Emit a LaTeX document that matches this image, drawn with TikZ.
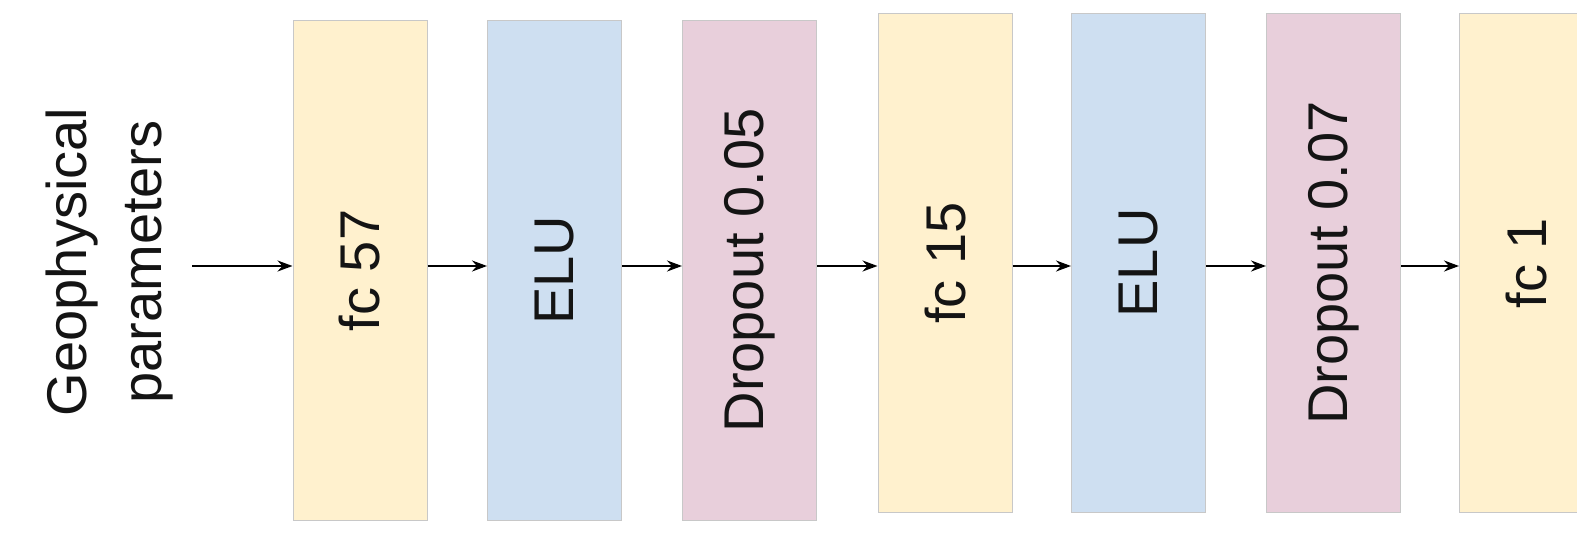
\documentclass[tikz,border=0pt]{standalone}
\usepackage{fontspec}
\setmainfont{Liberation Sans}
\usetikzlibrary{arrows.meta}
\definecolor{fcyel}{RGB}{255,241,206}
\definecolor{elublue}{RGB}{206,223,241}
\definecolor{droppink}{RGB}{232,207,219}
\definecolor{edgegray}{RGB}{200,200,200}
\definecolor{txt}{RGB}{20,20,20}
\begin{document}
\begin{tikzpicture}[x=0.5pt,y=-0.5pt,
  layer/.style={draw=edgegray, line width=0.5pt, minimum width=67pt,
    minimum height=249.5pt, inner sep=0pt, text=txt,
    font=\fontsize{28}{34}\selectfont},
  fcbox/.style={layer, fill=fcyel},
  elubox/.style={layer, fill=elublue},
  dropbox/.style={layer, fill=droppink},
  arr/.style={-{Stealth[length=7.5pt,width=5.5pt]}, line width=1pt, black}]
\useasboundingbox (0,0) rectangle (1577,535);
\clip (0,0) rectangle (1577,535);
\fill[white] (0,0) rectangle (1577,535);

\node[rotate=90, align=center, text=txt, inner sep=0pt,
  font=\fontsize{28}{37.5}\selectfont] (geo) at (110,262) {Geophysical\\parameters};

\node[fcbox]   (fcA)   at (360,270.5)  {\rotatebox{90}{fc 57}};
\node[elubox]  (eluA)  at (554.5,270.5) {\rotatebox{90}{ELU}};
\node[dropbox] (dropA) at (749.5,270.5) {\rotatebox{90}{Dropout 0.05}};
\node[fcbox]   (fcB)   at (945,263)    {\rotatebox{90}{fc 15}};
\node[elubox]  (eluB)  at (1138.5,263) {\rotatebox{90}{ELU}};
\node[dropbox] (dropB) at (1333.5,263) {\rotatebox{90}{Dropout 0.07}};
\node[fcbox]   (fcC)   at (1526.5,263) {\rotatebox{90}{fc 1}};

\coordinate (ay) at (0,266);
\coordinate (in) at (192,266);

\draw[arr] (in) -- (fcA.west |- ay);
\draw[arr] (fcA.east |- ay) -- (eluA.west |- ay);
\draw[arr] (eluA.east |- ay) -- (dropA.west |- ay);
\draw[arr] (dropA.east |- ay) -- (fcB.west |- ay);
\draw[arr] (fcB.east |- ay) -- (eluB.west |- ay);
\draw[arr] (eluB.east |- ay) -- (dropB.west |- ay);
\draw[arr] (dropB.east |- ay) -- (fcC.west |- ay);
\end{tikzpicture}
\end{document}
